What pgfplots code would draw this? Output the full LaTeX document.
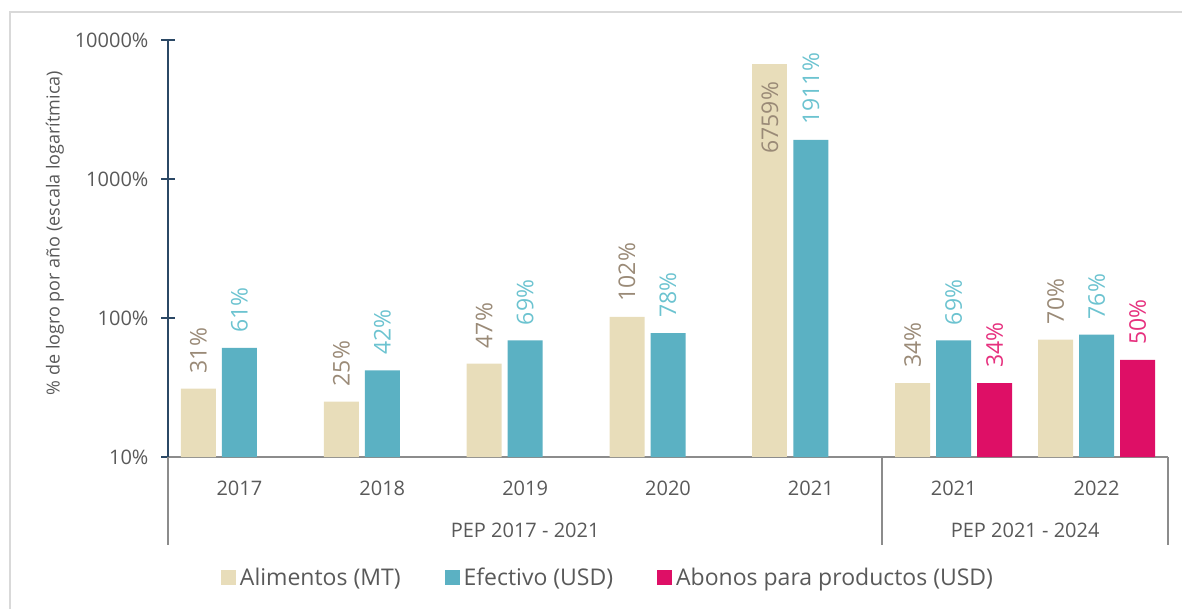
\documentclass[border=0pt]{standalone}
\usepackage{fontspec}
\setmainfont{Open Sans}
\usepackage{pgfplots}
\pgfplotsset{compat=1.18}
\definecolor{beige}{HTML}{E8DDBA}
\definecolor{teal}{HTML}{5BB1C3}
\definecolor{magenta}{HTML}{DE0F66}
\definecolor{albl}{HTML}{9A8A77}
\definecolor{eflbl}{HTML}{6CC3D0}
\definecolor{ablbl}{HTML}{E6307E}
\definecolor{navy}{HTML}{2B4865}
\definecolor{axgray}{HTML}{8C8C8C}
\definecolor{txtgray}{HTML}{595959}
\definecolor{framegray}{HTML}{D9D9D9}
\begin{document}
\begin{tikzpicture}
\path[use as bounding box] (0,0) rectangle (591pt,-304.5pt);
\draw[framegray, line width=1pt] (5pt,-304.5pt) -- (5pt,-6pt) -- (591pt,-6pt);
\begin{axis}[
  at={(84pt,-228.5pt)}, anchor=south west,
  scale only axis, width=500pt, height=208.5pt,
  xmin=-0.5, xmax=6.5,
  ymode=log, ymin=10, ymax=10000, log origin=infty,
  ybar, bar width=0.245,
  axis x line=bottom, axis y line=left,
  axis line style={-},
  x axis line style={draw=axgray, line width=1pt},
  y axis line style={draw=navy, line width=1pt},
  ytick={10,100,1000,10000},
  yticklabels={10\%,100\%,1000\%,10000\%},
  yminorticks=false,
  tick align=center,
  major tick length=6.5pt,
  ytick style={draw=navy, line width=1pt},
  xtick style={draw=none},
  xtick={0,1,2,3,4,5,6},
  xticklabels={2017,2018,2019,2020,2021,2021,2022},
  ticklabel style={font=\fontsize{10}{12}\selectfont, text=txtgray},
  xticklabel style={yshift=-5pt},
  yticklabel style={xshift=-3pt},
  clip=false,
  legend style={draw=none, fill=none, at={(0.441,-0.29)}, anchor=center,
    font=\fontsize{11.5}{13}\selectfont, text=txtgray,
    /tikz/every even column/.append style={column sep=20pt}},
  legend columns=3,
  legend cell align=left,
]
\addplot[fill=beige, draw=none, bar shift=-0.287,
  legend image code/.code={\fill[beige] (0pt,-3.75pt) rectangle (7.5pt,3.75pt);},
  nodes near coords, point meta=explicit symbolic,
  nodes near coords style={rotate=90, anchor=west, text=albl,
    font=\fontsize{11.5}{13}\selectfont, inner xsep=7.5pt, inner ysep=0pt}]
  coordinates {(0,31)[31\%] (1,25)[25\%] (2,47)[47\%] (3,102)[102\%] (5,34)[34\%] (6,70)[70\%]};
\addlegendentry{Alimentos (MT)}
\addplot[fill=teal, draw=none, bar shift=0,
  legend image code/.code={\fill[teal] (0pt,-3.75pt) rectangle (7.5pt,3.75pt);},
  nodes near coords, point meta=explicit symbolic,
  nodes near coords style={rotate=90, anchor=west, text=eflbl,
    font=\fontsize{11.5}{13}\selectfont, inner xsep=7.5pt, inner ysep=0pt}]
  coordinates {(0,61)[61\%] (1,42)[42\%] (2,69)[69\%] (3,78)[78\%] (4,1911)[1911\%] (5,69)[69\%] (6,76)[76\%]};
\addlegendentry{Efectivo (USD)}
\addplot[fill=magenta, draw=none, bar shift=0.287,
  legend image code/.code={\fill[magenta] (0pt,-3.75pt) rectangle (7.5pt,3.75pt);},
  nodes near coords, point meta=explicit symbolic,
  nodes near coords style={rotate=90, anchor=west, text=ablbl,
    font=\fontsize{11.5}{13}\selectfont, inner xsep=7.5pt, inner ysep=0pt}]
  coordinates {(5,34)[34\%] (6,50)[50\%]};
\addlegendentry{Abonos para productos (USD)}
\addplot[fill=beige, draw=none, bar shift=-0.287, forget plot,
  nodes near coords, point meta=explicit symbolic,
  nodes near coords style={rotate=90, anchor=east, text=albl,
    font=\fontsize{11.5}{13}\selectfont, inner xsep=9pt, inner ysep=0pt}]
  coordinates {(4,6759)[6759\%]};
\draw[axgray, line width=1pt] (axis cs:-0.5,10) -- ++(0pt,-44pt);
\draw[axgray, line width=1pt] (axis cs:4.5,10) -- ++(0pt,-44pt);
\draw[axgray, line width=1pt] (axis cs:6.5,10) -- ++(0pt,-44pt);
\node[font=\fontsize{10}{12}\selectfont, text=txtgray] at ([yshift=-36.5pt]axis cs:2,10) {PEP 2017 - 2021};
\node[font=\fontsize{10}{12}\selectfont, text=txtgray] at ([yshift=-36.5pt]axis cs:5.5,10) {PEP 2021 - 2024};
\path (rel axis cs:0,0.537) ++(-56.5pt,0pt) node[rotate=90, font=\fontsize{9}{11}\selectfont, text=txtgray] {\% de logro por año (escala logarítmica)};
\end{axis}
\end{tikzpicture}
\end{document}
